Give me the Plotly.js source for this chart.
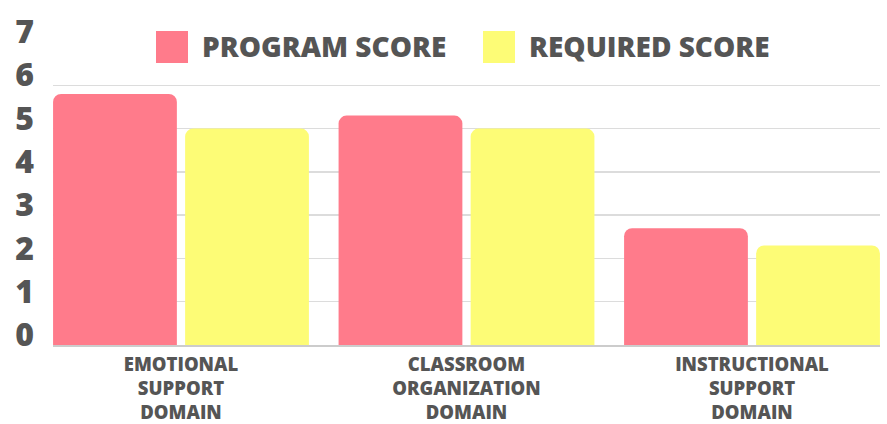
<!DOCTYPE html>
<html>
<head>
<meta charset="utf-8">
<script src="https://cdn.plot.ly/plotly-3.0.1.min.js"></script>
<style>html,body{margin:0;padding:0;background:#fff;}#chart{width:887px;height:424px;}</style>
</head>
<body>
<div id="chart"></div>
<script>
// ---- data ----
var categories = ["EMOTIONAL<br>SUPPORT<br>DOMAIN", "CLASSROOM<br>ORGANIZATION<br>DOMAIN", "INSTRUCTIONAL<br>SUPPORT<br>DOMAIN"];
var seriesNames = ["PROGRAM SCORE", "REQUIRED SCORE"];
var programScore = [5.8, 5.3, 2.7];
var requiredScore = [5.0, 5.0, 2.3];
var yTickVals = [0, 1, 2, 3, 4, 5, 6, 7];
var yTickText = ["0", "1", "2", "3", "4", "5", "6", "7"];
var gridVals = [1, 2, 3, 4, 5, 6];

// ---- style ----
var W = 887, H = 424;
var M = {l: 53, r: 7, t: 42, b: 79};
var colors = ["#FF7B8B", "#FDFC76"];
var txt = "#555555";
var FONT = "Open Sans, DejaVu Sans, sans-serif";
var pw = W - M.l - M.r, ph = H - M.t - M.b;
function px(x) { return (x - M.l) / pw; }
function py(y) { return (H - M.b - y) / ph; }

var traces = [
  {type: "bar", name: seriesNames[0], x: categories, y: programScore,
   marker: {color: colors[0]}, showlegend: false, hoverinfo: "skip"},
  {type: "bar", name: seriesNames[1], x: categories, y: requiredScore,
   marker: {color: colors[1]}, showlegend: false, hoverinfo: "skip"},
  {type: "scatter", x: [], y: [], yaxis: "y2", showlegend: false, hoverinfo: "skip"}
];

var legendX = [156, 483];
var shapes = [], annotations = [];
for (var i = 0; i < seriesNames.length; i++) {
  shapes.push({type: "rect", xref: "paper", yref: "paper",
    x0: px(legendX[i]), x1: px(legendX[i] + 32), y0: py(63), y1: py(31),
    fillcolor: colors[i], line: {width: 0}});
  annotations.push({xref: "paper", yref: "paper", x: px(legendX[i] + 44), y: py(46),
    xanchor: "left", yanchor: "middle", showarrow: false, text: seriesNames[i],
    font: {family: FONT, size: 28, color: txt, weight: 800}});
}

var layout = {
  width: W, height: H,
  margin: M,
  paper_bgcolor: "#fff", plot_bgcolor: "#fff",
  barmode: "group",
  bargap: 0.075,
  bargroupgap: 0.0625,
  barcornerradius: 8,
  showlegend: false,
  xaxis: {
    range: [-0.4483, 2.4483],
    showgrid: false, zeroline: false,
    showline: true, linecolor: "#cccccc", linewidth: 2,
    ticks: "", ticklabelstandoff: 2,
    tickfont: {family: FONT, size: 18.5, color: txt, weight: 800},
    fixedrange: true
  },
  yaxis: {
    range: [0, 7],
    tickvals: gridVals, showticklabels: false,
    showgrid: true, gridcolor: "#dcdcdc", gridwidth: 1.5,
    zeroline: false, ticks: "", fixedrange: true
  },
  yaxis2: {
    overlaying: "y", side: "left",
    range: [0, 7],
    tickvals: yTickVals, ticktext: yTickText,
    showgrid: false, zeroline: false, ticks: "",
    ticklabelstandoff: 18, ticklabelshift: -10,
    tickfont: {family: FONT, size: 32, color: txt, weight: 800},
    fixedrange: true
  },
  shapes: shapes,
  annotations: annotations
};

Plotly.newPlot("chart", traces, layout, {displayModeBar: false, staticPlot: true});
</script>
</body>
</html>
